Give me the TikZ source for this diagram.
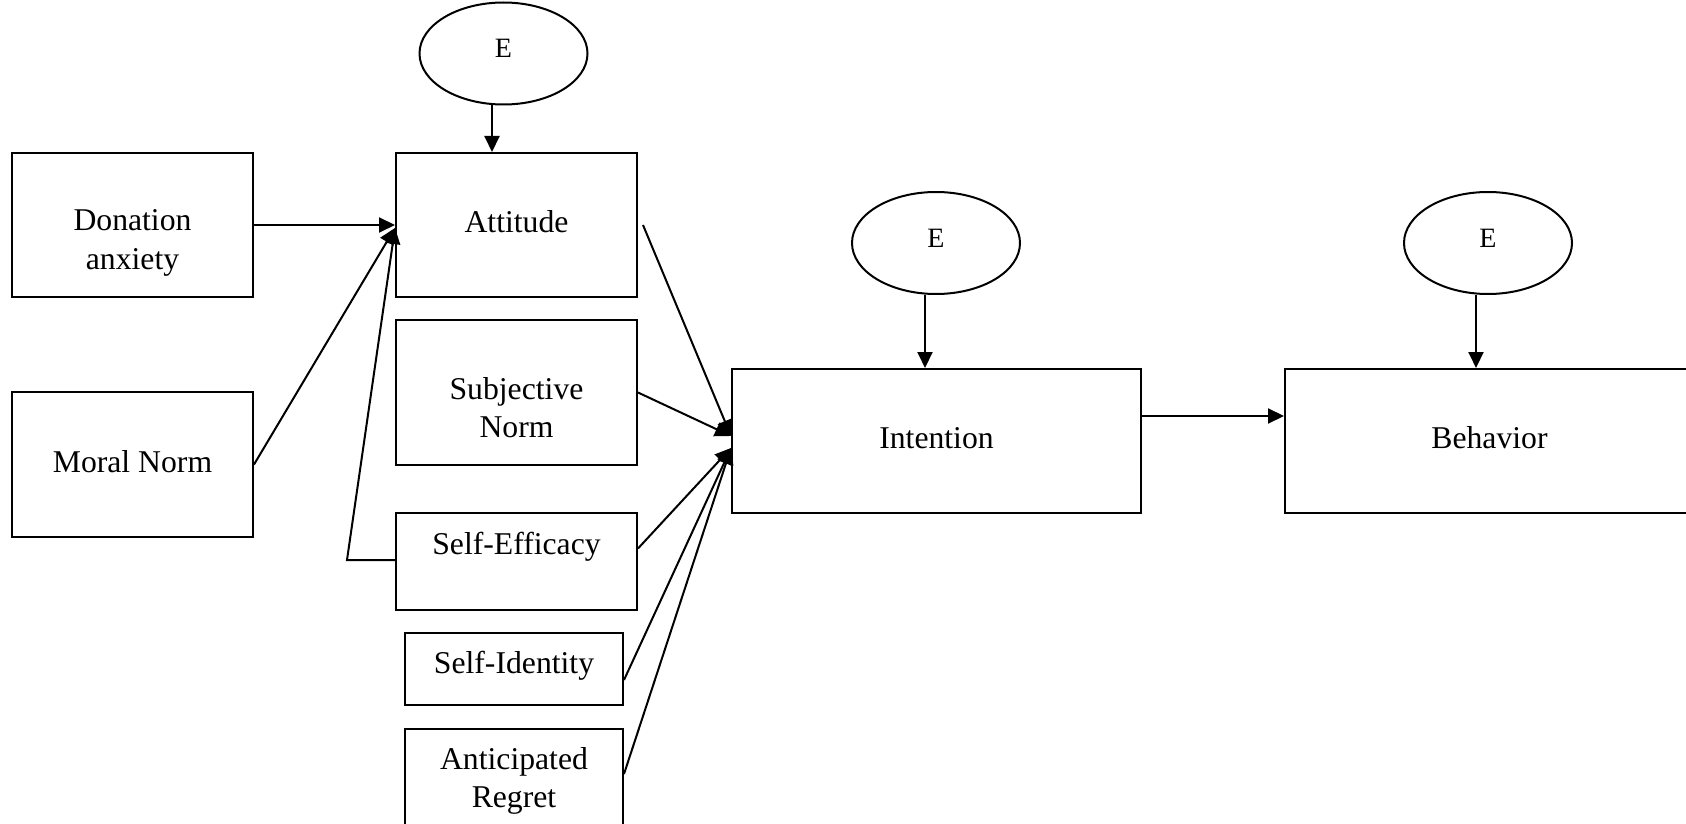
\documentclass[tikz,border=0pt]{standalone}
\usepackage{fontspec}
\setmainfont{Liberation Serif}
\usetikzlibrary{shapes.geometric,arrows.meta,calc}
\begin{document}
\begin{tikzpicture}[x=1pt,y=-1pt,
  box/.style={draw,line width=2pt,rectangle,inner sep=0pt},
  err/.style={draw,line width=2pt,ellipse,inner sep=0pt,minimum width=168pt,minimum height=102pt},
  etxt/.style={inner sep=0pt,font=\fontsize{28}{32}\selectfont},
  txt/.style={align=center,inner sep=0pt,font=\fontsize{31.7}{38.5}\selectfont},
  arr/.style={line width=2pt,-{Triangle[length=16pt,width=15pt]}},
  ln/.style={line width=2pt}]
\useasboundingbox (0,0) rectangle (1686,824);
% boxes
\node[box,minimum width=241pt,minimum height=144pt] (da) at (132.5,225) {};
\node[box,minimum width=241pt,minimum height=145pt] (mn) at (132.5,464.5) {};
\node[box,minimum width=241pt,minimum height=144pt] (att) at (516.5,225) {};
\node[box,minimum width=241pt,minimum height=145pt] (sn) at (516.5,392.5) {};
\node[box,minimum width=241pt,minimum height=97pt] (se) at (516.5,561.5) {};
\node[box,minimum width=218pt,minimum height=72pt] (si) at (514,669) {};
\node[box,minimum width=218pt,minimum height=104pt] (ar) at (514,781) {};
\node[box,minimum width=409pt,minimum height=144pt] (int) at (936.5,441) {};
\node[box,minimum width=409pt,minimum height=144pt] (beh) at (1489.5,441) {};
% texts
\node[txt] (dat) at ($(da.center)+(0,18)$) {Donation\\anxiety};
\node[txt] (mnt) at ($(mn.center)+(0,-3)$) {Moral Norm};
\node[txt] (attt) at ($(att.center)+(0,-3)$) {Attitude};
\node[txt] (snt) at ($(sn.center)+(0,15)$) {Subjective\\Norm};
\node[txt] (set) at ($(se.center)+(0,-15)$) {Self-Efficacy};
\node[txt] (sit) at ($(si.center)+(0,-3)$) {Self-Identity};
\node[txt] (art) at ($(ar.center)+(0,0)$) {Anticipated\\Regret};
\node[txt] (intt) at ($(int.center)+(0,-3)$) {Intention};
\node[txt] (beht) at ($(beh.center)+(0,-3)$) {Behavior};
% error terms
\node[err] (e1) at (503.5,53.5) {};
\node[err] (e2) at (936,243) {};
\node[err] (e3) at (1488,243) {};
\node[etxt] (e1t) at ($(e1.center)+(0,-5)$) {E};
\node[etxt] (e2t) at ($(e2.center)+(0,-5)$) {E};
\node[etxt] (e3t) at ($(e3.center)+(0,-5)$) {E};
% helper coordinates
\coordinate (c1) at (492,0);
\coordinate (c2) at (925,0);
\coordinate (c3) at (1476,0);
\coordinate (cib) at (0,416);
\coordinate (attin) at ($(att.west)+(0,3)$);
\coordinate (bend) at (347,560);
\coordinate (in1) at ($(int.west)+(0,-5)$);
\coordinate (in2) at ($(int.west)+(0,7)$);
% connectors
\draw[arr] (e1.south -| c1) -- (att.north -| c1);
\draw[arr] (e2.south -| c2) -- (int.north -| c2);
\draw[arr] (e3.south -| c3) -- (beh.north -| c3);
\draw[arr] (da.east) -- (att.west);
\draw[arr] (mn.east) -- (attin);
\draw[arr] (se.west |- bend) -- (bend) -- (attin);
\draw[arr] ($(att.east)+(5,0)$) -- (in1);
\draw[arr] (sn.east) -- (in1);
\draw[arr] ($(se.east)+(0,-13)$) -- (in2);
\draw[arr] ($(si.east)+(0,11)$) -- (in2);
\draw[arr] ($(ar.east)+(0,-7)$) -- (in2);
\draw[arr] (int.east |- cib) -- (beh.west |- cib);
\end{tikzpicture}
\end{document}
